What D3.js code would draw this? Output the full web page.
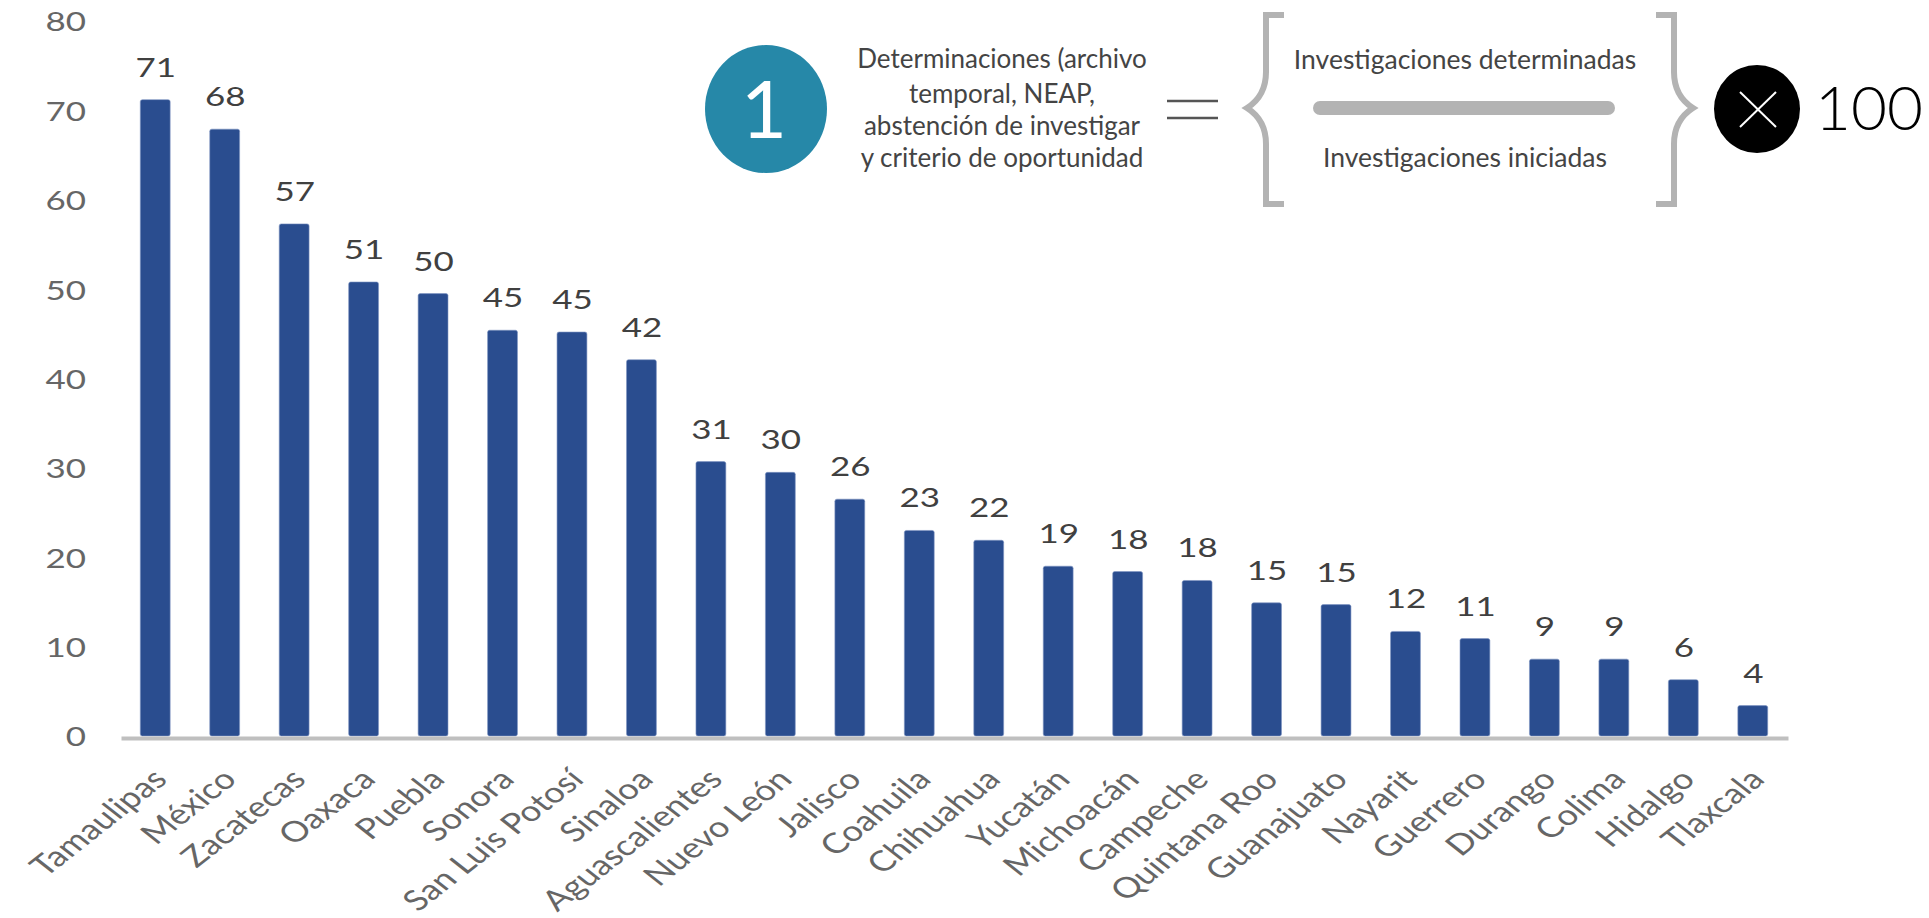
<!DOCTYPE html>
<html><head><meta charset="utf-8">
<script src="https://cdn.jsdelivr.net/npm/d3@7"></script>
<style>html,body{margin:0;padding:0;background:#fff;overflow:hidden}svg{display:block}text{font-family:Lato,"Open Sans",sans-serif}</style>
</head><body><svg id="c" width="1929" height="918"></svg>
<script>
const categories=["Tamaulipas","México","Zacatecas","Oaxaca","Puebla","Sonora","San Luis Potosí","Sinaloa","Aguascalientes","Nuevo León","Jalisco","Coahuila","Chihuahua","Yucatán","Michoacán","Campeche","Quintana Roo","Guanajuato","Nayarit","Guerrero","Durango","Colima","Hidalgo","Tlaxcala"];
const values=[71.2,67.9,57.3,50.8,49.5,45.4,45.2,42.1,30.7,29.5,26.5,23,21.9,19,18.4,17.4,14.9,14.7,11.7,10.9,8.6,8.6,6.3,3.4];
const valueLabels=[71,68,57,51,50,45,45,42,31,30,26,23,22,19,18,18,15,15,12,11,9,9,6,4];
const yTicks=[0,10,20,30,40,50,60,70,80];
const formulaLeft=["Determinaciones (archivo","temporal, NEAP,","abstención de investigar","y criterio de oportunidad"];
const formulaTop="Investigaciones determinadas";
const formulaBottom="Investigaciones iniciadas";
const stretch=1.27;

const svg=d3.select("#c");
const x=d3.scaleBand().domain(categories).range([121,1788]).paddingInner(0.57).paddingOuter(0.285);
const y=d3.scaleLinear().domain([0,80]).range([736,21]);

// bars
svg.append("g").selectAll("rect").data(categories).join("rect")
  .attr("x",d=>x(d)-0.5).attr("width",x.bandwidth())
  .attr("y",(d,i)=>y(values[i])).attr("height",(d,i)=>y(0)-y(values[i]))
  .attr("rx",2).attr("fill","#2a4d8f").attr("stroke","#7f96c2").attr("stroke-width",0.6);

// y axis
const ya=svg.append("g").attr("transform","translate(86,0)").call(d3.axisLeft(y).tickValues(yTicks).tickSize(0).tickPadding(0));
ya.select(".domain").remove();
ya.selectAll("text").attr("x",0).attr("y",0).attr("dy","0.36em").attr("text-anchor","end")
  .attr("transform",`translate(0,0) scale(${stretch},1)`)
  .style("font-family","Lato").style("font-size","27.5px").attr("fill","#666");

// x axis
const xa=svg.append("g").attr("transform","translate(0,738)").call(d3.axisBottom(x).tickSize(0).tickPadding(0));
xa.select(".domain").attr("stroke","#bfbfbf").attr("stroke-width",4);
xa.selectAll("text").attr("x",0).attr("y",0).attr("dy",0).attr("text-anchor","end")
  .attr("transform",`translate(13,43) scale(${stretch},1) rotate(-45)`)
  .style("font-family","Lato").style("font-size","28.5px").attr("fill","#666");

// value labels
svg.append("g").selectAll("text").data(categories).join("text")
  .attr("text-anchor","middle")
  .attr("transform",(d,i)=>`translate(${x(d)+x.bandwidth()/2},${y(values[i])-23}) scale(${stretch},1)`)
  .text((d,i)=>valueLabels[i]).style("font-size","27.5px").attr("fill","#404040");

// formula
const f=svg.append("g");
f.append("ellipse").attr("cx",766).attr("cy",109).attr("rx",61).attr("ry",64).attr("fill","#2688a8");
f.append("text").attr("x",764).attr("y",138).attr("text-anchor","middle").text("1").style("font-size","80px").style("font-weight",400).attr("fill","#fff");
f.selectAll("text.l").data(formulaLeft).join("text").attr("class","l")
  .attr("x",1002).attr("y",(d,i)=>[68,103,135,167][i]).attr("text-anchor","middle")
  .text(d=>d).style("font-size","26px").style("font-weight",400).attr("fill","#444");
f.selectAll("line.e").data([101,118]).join("line").attr("class","e")
  .attr("x1",1167).attr("x2",1218).attr("y1",d=>d).attr("y2",d=>d).attr("stroke","#555").attr("stroke-width",2.5);
const brace=(xo,xi,xt)=>{const p=d3.path();p.moveTo(xo,15);p.lineTo(xi,15);p.lineTo(xi,72);p.quadraticCurveTo(xi,96,xt,108);p.quadraticCurveTo(xi,120,xi,144);p.lineTo(xi,204);p.lineTo(xo,204);return p.toString();};
f.append("path").attr("d",brace(1284,1266,1247)).attr("fill","none").attr("stroke","#b3b3b3").attr("stroke-width",6);
f.append("path").attr("d",brace(1656,1674,1693)).attr("fill","none").attr("stroke","#b3b3b3").attr("stroke-width",6);
f.append("line").attr("x1",1320).attr("x2",1608).attr("y1",108).attr("y2",108).attr("stroke","#b3b3b3").attr("stroke-width",14).attr("stroke-linecap","round");
f.append("text").attr("x",1465).attr("y",69).attr("text-anchor","middle").text(formulaTop).style("font-size","26.5px").style("font-weight",400).attr("fill","#444");
f.append("text").attr("x",1465).attr("y",167).attr("text-anchor","middle").text(formulaBottom).style("font-size","26.5px").style("font-weight",400).attr("fill","#444");
f.append("ellipse").attr("cx",1757).attr("cy",109).attr("rx",43).attr("ry",44).attr("fill","#000");
f.selectAll("line.x").data([[1740,92,1776,127],[1776,92,1740,127]]).join("line").attr("class","x")
  .attr("x1",d=>d[0]).attr("y1",d=>d[1]).attr("x2",d=>d[2]).attr("y2",d=>d[3]).attr("stroke","#fff").attr("stroke-width",2);
f.append("text").attr("x",1815).attr("y",130).text("100").style("font-size","62px").style("font-weight",300).attr("fill","#000");
</script></body></html>
